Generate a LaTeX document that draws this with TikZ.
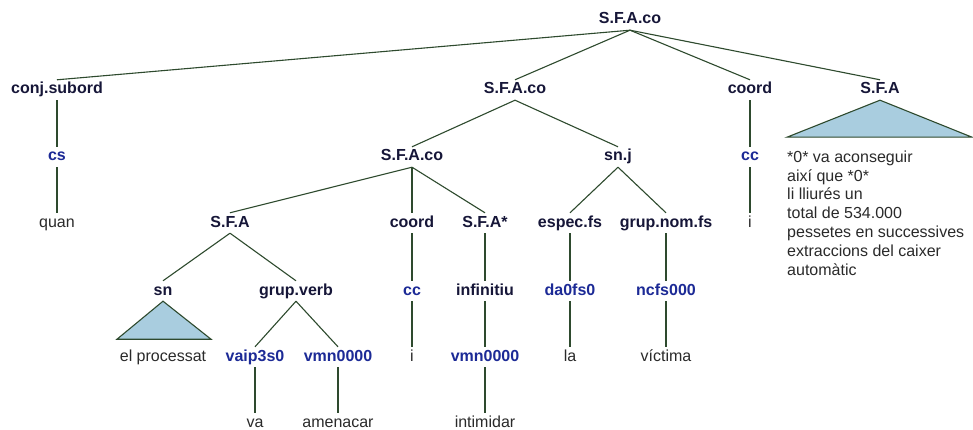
\documentclass[tikz,border=0pt]{standalone}
\usepackage{fontspec}
\setmainfont{Liberation Sans}
\usepackage{xcolor}
\usepackage{tikz}

\definecolor{catcol}{HTML}{161638}
\definecolor{tagcol}{HTML}{1C2A96}
\definecolor{wordcol}{HTML}{2A2A2A}
\definecolor{edgecol}{HTML}{2E4A2E}
\definecolor{trifill}{HTML}{A9CDDF}

\tikzset{
  lbl/.style={inner sep=0pt, minimum height=20pt, text height=11pt, text depth=3pt},
  cat/.style={lbl, text=catcol, font=\fontsize{16}{18}\selectfont\bfseries},
  tag/.style={lbl, text=tagcol, font=\fontsize{16}{18}\selectfont\bfseries},
  word/.style={lbl, text=wordcol, font=\fontsize{16}{18}\selectfont},
  edge/.style={draw=edgecol, line width=1.1pt},
  tri/.style={draw=edgecol, line width=1.1pt, fill=trifill, line join=miter}
}

\begin{document}
\begin{tikzpicture}[x=1pt, y=-1pt]
  \useasboundingbox[fill=white] (0,0) rectangle (973,430);

  % level 0 and 1
  \node[cat] (root) at (630,20) {S.F.A.co};
  \node[cat] (conj) at (57,90) {conj.subord};
  \node[cat] (sfaco1) at (515,90) {S.F.A.co};
  \node[cat] (coordA) at (750,90) {coord};
  \node[cat] (sfaA) at (880,90) {S.F.A};

  % level 2
  \node[tag] (cs) at (57,157) {cs};
  \node[tag] (ccA) at (750,157) {cc};
  \node[cat] (sfaco2) at (412,157) {S.F.A.co};
  \node[cat] (snj) at (618,157) {sn.j};

  % level 3
  \node[word] (quan) at (57,223) {quan};
  \node[word] (iA) at (750,223) {i};
  \node[cat] (sfaB) at (230,223) {S.F.A};
  \node[cat] (coordB) at (412,223) {coord};
  \node[cat] (sfastar) at (485,223) {S.F.A*};
  \node[cat] (espec) at (570,223) {espec.fs};
  \node[cat] (grupnom) at (666,223) {grup.nom.fs};

  % level 4
  \node[cat] (sn) at (163,291) {sn};
  \node[cat] (grupverb) at (296,291) {grup.verb};
  \node[tag] (ccB) at (412,291) {cc};
  \node[cat] (infin) at (485,291) {infinitiu};
  \node[tag] (da) at (570,291) {da0fs0};
  \node[tag] (ncfs) at (666,291) {ncfs000};

  % level 5
  \node[word] (processat) at (163,357) {el processat};
  \node[tag] (vaip) at (255,357) {vaip3s0};
  \node[tag] (vmnA) at (338,357) {vmn0000};
  \node[word] (iB) at (412,357) {i};
  \node[tag] (vmnB) at (485,357) {vmn0000};
  \node[word] (la) at (570,357) {la};
  \node[word] (victima) at (666,357) {víctima};

  % level 6
  \node[word] (va) at (255,423) {va};
  \node[word] (amenacar) at (338,423) {amenacar};
  \node[word] (intimidar) at (485,423) {intimidar};

  % text under the collapsed S.F.A
  \node[anchor=north west, inner sep=0pt, align=left, text=wordcol,
        font=\fontsize{16}{18.8}\selectfont] (sfatext) at (787,150.5)
    {*0* va aconseguir\\així que *0*\\li lliurés un\\total de 534.000\\pessetes en successives\\extraccions del caixer\\automàtic};

  % collapsed subtrees
  \draw[tri] (sfaA.south) -- ++(-93,37) -- ++(185,0) -- cycle;
  \draw[tri] (sn.south) -- ++(-46,38) -- ++(94,0) -- cycle;

  % branches
  \foreach \p/\c in {root/conj, root/sfaco1, root/coordA, root/sfaA,
                     conj/cs, cs/quan, coordA/ccA, ccA/iA,
                     sfaco1/sfaco2, sfaco1/snj,
                     sfaco2/sfaB, sfaco2/coordB, sfaco2/sfastar,
                     snj/espec, snj/grupnom,
                     sfaB/sn, sfaB/grupverb, coordB/ccB, sfastar/infin,
                     espec/da, grupnom/ncfs,
                     grupverb/vaip, grupverb/vmnA, ccB/iB, infin/vmnB,
                     da/la, ncfs/victima,
                     vaip/va, vmnA/amenacar, vmnB/intimidar}
    \draw[edge] (\p.south) -- (\c.north);
\end{tikzpicture}
\end{document}
